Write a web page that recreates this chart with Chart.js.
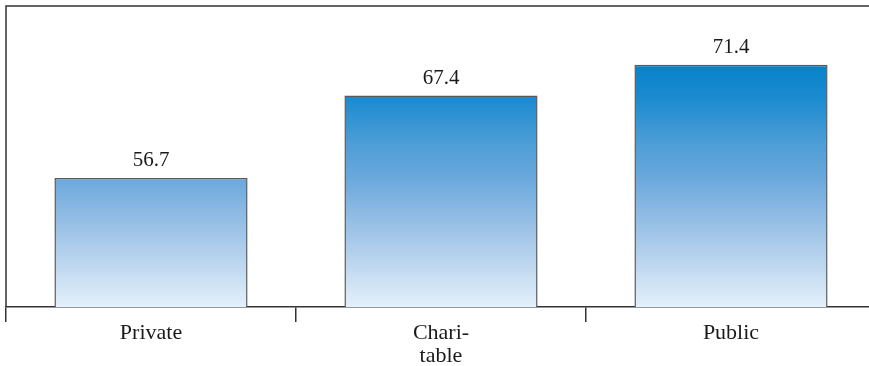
<!DOCTYPE html>
<html>
<head>
<meta charset="utf-8">
<script src="https://cdn.jsdelivr.net/npm/chart.js@4"></script>
<style>
    html, body { margin: 0; padding: 0; background: #fff; overflow: hidden; }
    #wrap { width: 882px; height: 366px; }
</style>
</head>
<body>
<div id="wrap"><canvas id="barChart"></canvas></div>
<script>
const categories = [['Private'], ['Chari-', 'table'], ['Public']];
const values = [56.7, 67.4, 71.4];
const yMin = 40;
const yMax = 79;

const lineColor = '#333';
const serif = 'Liberation Serif, Times New Roman, serif';

// gradient runs over the whole plot height, so taller bars get a darker top
function barGradient(context) {
    const chart = context.chart;
    const area = chart.chartArea;
    if (!area) return '#6aa8dc';
    const g = chart.ctx.createLinearGradient(0, area.bottom, 0, area.top);
    g.addColorStop(0, '#e4f0fa');
    g.addColorStop(0.25, '#9fc4e7');
    g.addColorStop(0.43, '#6aa8dc');
    g.addColorStop(0.55, '#4b9dd6');
    g.addColorStop(0.69, '#1d8bd0');
    g.addColorStop(0.83, '#0080c8');
    g.addColorStop(1, '#0078c0');
    return g;
}

// top and left frame lines
const framePlugin = {
    id: 'frame',
    afterDraw(chart) {
        const { ctx, chartArea } = chart;
        ctx.save();
        ctx.strokeStyle = lineColor;
        ctx.lineWidth = 1.5;
        ctx.beginPath();
        ctx.moveTo(chartArea.left, chartArea.bottom);
        ctx.lineTo(chartArea.left, chartArea.top);
        ctx.lineTo(chart.width, chartArea.top);
        ctx.stroke();
        ctx.restore();
    }
};

// value labels above bars
const valueLabels = {
    id: 'valueLabels',
    afterDatasetsDraw(chart) {
        const { ctx } = chart;
        const meta = chart.getDatasetMeta(0);
        ctx.save();
        ctx.fillStyle = '#1a1a1a';
        ctx.font = `21px ${serif}`;
        ctx.textAlign = 'center';
        ctx.textBaseline = 'alphabetic';
        meta.data.forEach((bar, i) => {
            ctx.fillText(values[i].toFixed(1), bar.x, bar.y - 12);
        });
        ctx.restore();
    }
};

const ctx = document.getElementById('barChart').getContext('2d');
const chart = new Chart(ctx, {
    type: 'bar',
    data: {
        labels: categories,
        datasets: [{
            data: values,
            backgroundColor: barGradient,
            borderColor: '#5a5a5a',
            borderWidth: 1.5,
            borderSkipped: 'bottom',
            categoryPercentage: 1,
            barPercentage: 0.666
        }]
    },
    options: {
        responsive: true,
        maintainAspectRatio: false,
        animation: false,
        layout: { padding: { left: 6, right: 6, top: 6, bottom: 0 } },
        scales: {
            x: {
                grid: {
                    display: true,
                    offset: true,
                    drawOnChartArea: false,
                    drawTicks: true,
                    tickLength: 15,
                    color: lineColor,
                    lineWidth: 1.5
                },
                border: { display: true, color: lineColor, width: 1.5 },
                ticks: {
                    color: '#1a1a1a',
                    padding: 0,
                    maxRotation: 0,
                    font: { family: serif, size: 22, lineHeight: 1.05 }
                },
                afterFit: (scale) => { scale.height = 59; }
            },
            y: {
                display: false,
                min: yMin,
                max: yMax
            }
        },
        plugins: {
            legend: { display: false },
            tooltip: { enabled: false }
        }
    },
    plugins: [framePlugin, valueLabels]
});
</script>
</body>
</html>
